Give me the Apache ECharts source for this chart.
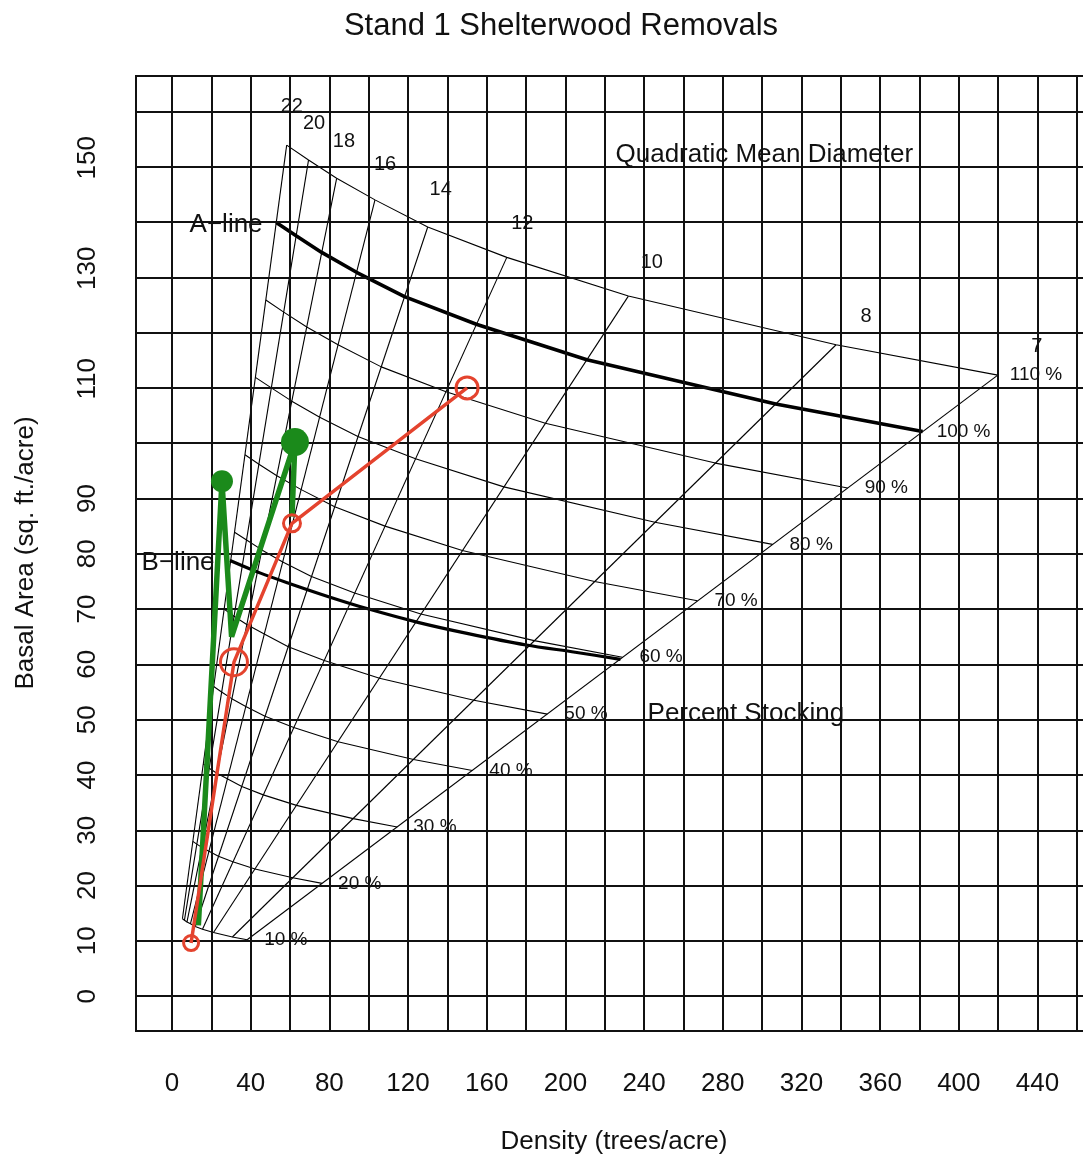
<!DOCTYPE html>
<html><head><meta charset="utf-8">
<script src="https://cdn.jsdelivr.net/npm/echarts@6/dist/echarts.min.js"></script>
<style>html,body{margin:0;padding:0;background:#fff}#c{width:1083px;height:1160px}</style>
</head><body><div id="c"></div>
<script>
// ---------------- DATA ----------------
const xTicks = [0, 40, 80, 120, 160, 200, 240, 280, 320, 360, 400, 440];
const yTicks = [0, 10, 20, 30, 40, 50, 60, 70, 80, 90, 110, 130, 150];
const xGrid = [0, 20, 40, 60, 80, 100, 120, 140, 160, 180, 200, 220, 240, 260, 280, 300, 320, 340, 360, 380, 400, 420, 440, 460];
const yGrid = [0, 10, 20, 30, 40, 50, 60, 70, 80, 90, 100, 110, 120, 130, 140, 150, 160];

// Quadratic mean diameter lines (inches), left to right
const qmd = ['22', '20', '18', '16', '14', '12', '10', '8', '7'];
const qmdLabelTPA = [60.9, 72.2, 87.4, 108.3, 136.6, 178.1, 243.9, 352.8, 439.6];
const qmdLabelBA  = [160.9, 157.8, 154.5, 150.4, 145.9, 139.7, 132.6, 122.9, 117.4];

// Percent stocking curves: trees/acre and basal area at each QMD line
const stockLabels = ['10 %', '20 %', '30 %', '40 %', '50 %', '60 %', '70 %', '80 %', '90 %', '100 %', '110 %'];
const tpa10  = [5.3, 6.3, 7.6, 9.4, 11.8, 15.5, 21.1, 30.7, 38.2];
const ba10   = [14.0, 13.7, 13.4, 13.1, 12.6, 12.1, 11.5, 10.7, 10.2];
const tpa20  = [10.6, 12.6, 15.2, 18.8, 23.6, 30.9, 42.2, 61.4, 76.3];
const ba20   = [28.0, 27.5, 26.9, 26.2, 25.3, 24.3, 23.0, 21.4, 20.4];
const tpa30  = [15.9, 18.9, 22.8, 28.1, 35.5, 46.4, 63.3, 92.1, 114.5];
const ba30   = [42.0, 41.2, 40.3, 39.3, 37.9, 36.4, 34.5, 32.1, 30.6];
const tpa40  = [21.2, 25.2, 30.4, 37.5, 47.3, 61.9, 84.4, 122.8, 152.7];
const ba40   = [56.0, 55.0, 53.8, 52.4, 50.6, 48.6, 46.0, 42.8, 40.8];
const tpa50  = [26.5, 31.5, 38.0, 46.9, 59.1, 77.4, 105.5, 153.5, 190.8];
const ba50   = [70.0, 68.7, 67.2, 65.5, 63.2, 60.7, 57.5, 53.5, 51.0];
const tpa60  = [31.8, 37.9, 45.7, 56.3, 70.9, 92.8, 126.5, 184.1, 229.0];
const ba60   = [83.9, 82.5, 80.7, 78.5, 75.9, 72.9, 69.1, 64.3, 61.3];
const tpa70  = [37.1, 44.2, 53.3, 65.7, 82.7, 108.3, 147.6, 214.8, 267.1];
const ba70   = [97.9, 96.2, 94.1, 91.6, 88.5, 85.0, 80.6, 75.0, 71.5];
const tpa80  = [42.4, 50.5, 60.9, 75.1, 94.5, 123.8, 168.7, 245.5, 305.3];
const ba80   = [111.9, 110.0, 107.6, 104.7, 101.2, 97.2, 92.1, 85.7, 81.7];
const tpa90  = [47.7, 56.8, 68.5, 84.4, 106.4, 139.3, 189.8, 276.2, 343.5];
const ba90   = [125.9, 123.7, 121.0, 117.8, 113.8, 109.3, 103.6, 96.4, 91.9];
const tpa100 = [53.0, 63.1, 76.1, 93.8, 118.2, 154.7, 210.9, 306.9, 381.6];   // A-line
const ba100  = [139.9, 137.5, 134.5, 130.9, 126.5, 121.5, 115.1, 107.1, 102.1];
const tpa110 = [58.3, 69.4, 83.7, 103.2, 130.0, 170.2, 232.0, 337.6, 419.8];
const ba110  = [153.9, 151.2, 147.9, 144.0, 139.1, 133.6, 126.6, 117.8, 112.3];

// B-line
const bLineTPA = [29.5, 45, 60, 80, 100, 125, 150, 180, 205, 228];
const bLineBA  = [78.8, 76.5, 74.6, 72.2, 70.0, 67.6, 65.6, 63.5, 62.2, 60.9];

// Stand trajectories
const redTPA = [9.7, 31.5, 61.0, 150.0];
const redBA  = [9.6, 60.4, 85.5, 110.0];
const greenTPA = [13.4, 25.4, 30.3, 62.5, 61.0];
const greenBA  = [12.8, 93.1, 65.0, 100.2, 86.7];

// Text annotations
const noteLeftText = ['Quadratic Mean Diameter', 'Percent Stocking'];
const noteLeftTPA = [225.2, 241.5];
const noteLeftBA  = [152.1, 51.0];
const noteRightText = ['A\u2212line', 'B\u2212line'];
const noteRightTPA = [46.3, 21.9];
const noteRightBA  = [139.4, 78.4];

// ---------------- CHART ----------------
const FONT = '"Liberation Sans", Arial, Helvetica, sans-serif';
const RED = '#e4432e';
const GREEN = '#1b8a1b';
const INK = '#111';
const zip = (a, b) => a.map((v, i) => [v, b[i]]);
const stockSets = [[tpa10, ba10], [tpa20, ba20], [tpa30, ba30], [tpa40, ba40], [tpa50, ba50],
  [tpa60, ba60], [tpa70, ba70], [tpa80, ba80], [tpa90, ba90], [tpa100, ba100], [tpa110, ba110]];
const labelDist = [17, 16, 16, 17, 17, 17, 17, 17, 17, 14, 12];
const redSizes = [15, 27, 17, 22];
const greenSizes = [0, 22, 0, 28, 0];

const series = [];
series.push({
  type: 'line', data: [], z: 1, silent: true,
  markLine: {
    silent: true, symbol: ['none', 'none'], label: { show: false },
    emphasis: { disabled: true }, animation: false,
    lineStyle: { color: '#111', width: 2, type: 'solid' },
    data: xGrid.map(v => ({ xAxis: v })).concat(yGrid.map(v => ({ yAxis: v })))
  }
});
qmd.forEach((d, i) => {
  series.push({
    type: 'line', name: 'QMD ' + d, silent: true, z: 2,
    data: [[tpa10[i], ba10[i]], [tpa110[i], ba110[i]]],
    symbol: 'none', lineStyle: { color: '#000', width: 1.1 }
  });
});
stockSets.forEach((s, k) => {
  const isA = k === 9;
  series.push({
    type: 'line', name: stockLabels[k], silent: true, z: isA ? 3 : 2,
    data: zip(s[0], s[1]), symbol: 'none',
    lineStyle: { color: '#000', width: isA ? 3.6 : 1.1 },
    endLabel: { show: true, formatter: stockLabels[k], distance: labelDist[k],
      fontSize: 19, fontFamily: FONT, color: INK }
  });
});
series.push({
  type: 'line', name: 'B-line', silent: true, z: 3,
  data: zip(bLineTPA, bLineBA), symbol: 'none', smooth: 0.3,
  lineStyle: { color: '#000', width: 3.2 }
});
series.push({
  type: 'line', name: 'growth', z: 5, silent: true,
  data: zip(greenTPA, greenBA), symbol: 'circle',
  symbolSize: (v, p) => greenSizes[p.dataIndex],
  itemStyle: { color: GREEN }, lineStyle: { color: GREEN, width: 5.5 }
});
series.push({
  type: 'line', name: 'removals', z: 6, silent: true,
  data: zip(redTPA, redBA), symbol: 'circle',
  symbolSize: (v, p) => redSizes[p.dataIndex],
  itemStyle: { color: 'rgba(0,0,0,0)', borderColor: RED, borderWidth: 3 },
  lineStyle: { color: RED, width: 3.5 }
});
const textSeries = (items, position, size) => ({
  type: 'scatter', z: 7, silent: true, symbolSize: 1,
  itemStyle: { color: 'rgba(255,255,255,0)', opacity: 1 },
  data: items,
  label: { show: true, position: position, distance: 0, formatter: p => p.name,
    fontSize: size, fontFamily: FONT, color: INK, opacity: 1, textBorderWidth: 0 }
});
series.push(textSeries(qmd.map((d, i) => ({ value: [qmdLabelTPA[i], qmdLabelBA[i]], name: d })), 'inside', 20));
series.push(textSeries(noteLeftText.map((t, i) => ({ value: [noteLeftTPA[i], noteLeftBA[i]], name: t })), 'right', 26));
series.push(textSeries(noteRightText.map((t, i) => ({ value: [noteRightTPA[i], noteRightBA[i]], name: t })), 'left', 26));

const chart = echarts.init(document.getElementById('c'), null, { renderer: 'canvas', width: 1083, height: 1160 });
chart.setOption({
  animation: false,
  backgroundColor: '#fff',
  grid: { left: 136, top: 76, width: 980, height: 955, outerBoundsMode: 'none', containLabel: false,
    show: true, borderColor: '#111', borderWidth: 2, backgroundColor: 'transparent' },
  xAxis: {
    type: 'value', min: -18.3, max: 479.9,
    axisLine: { show: false }, axisTick: { show: false }, splitLine: { show: false },
    axisLabel: { customValues: xTicks, margin: 40, fontSize: 26, fontFamily: FONT, color: INK }
  },
  yAxis: {
    type: 'value', min: -6.3, max: 166.4,
    axisLine: { show: false }, axisTick: { show: false }, splitLine: { show: false },
    axisLabel: {
      customValues: yTicks, rotate: 90, margin: 35, fontSize: 26, fontFamily: FONT, color: INK,
      formatter: v => (v >= 100 ? '{w|' + v + '}' : String(v)),
      rich: { w: { padding: [0, 0, 0, 18], fontSize: 26, fontFamily: FONT, color: INK } }
    }
  },
  graphic: [
    { type: 'text', x: 561, y: 26, style: { text: 'Stand 1 Shelterwood Removals', font: '31px ' + FONT, fill: INK, textAlign: 'center', textVerticalAlign: 'middle' } },
    { type: 'text', x: 614, y: 1142, style: { text: 'Density (trees/acre)', font: '26px ' + FONT, fill: INK, textAlign: 'center', textVerticalAlign: 'middle' } },
    { type: 'text', x: 26, y: 553, rotation: Math.PI / 2, style: { text: 'Basal Area (sq. ft./acre)', font: '26px ' + FONT, fill: INK, textAlign: 'center', textVerticalAlign: 'middle' } }
  ],
  series: series
});
</script>
</body></html>
